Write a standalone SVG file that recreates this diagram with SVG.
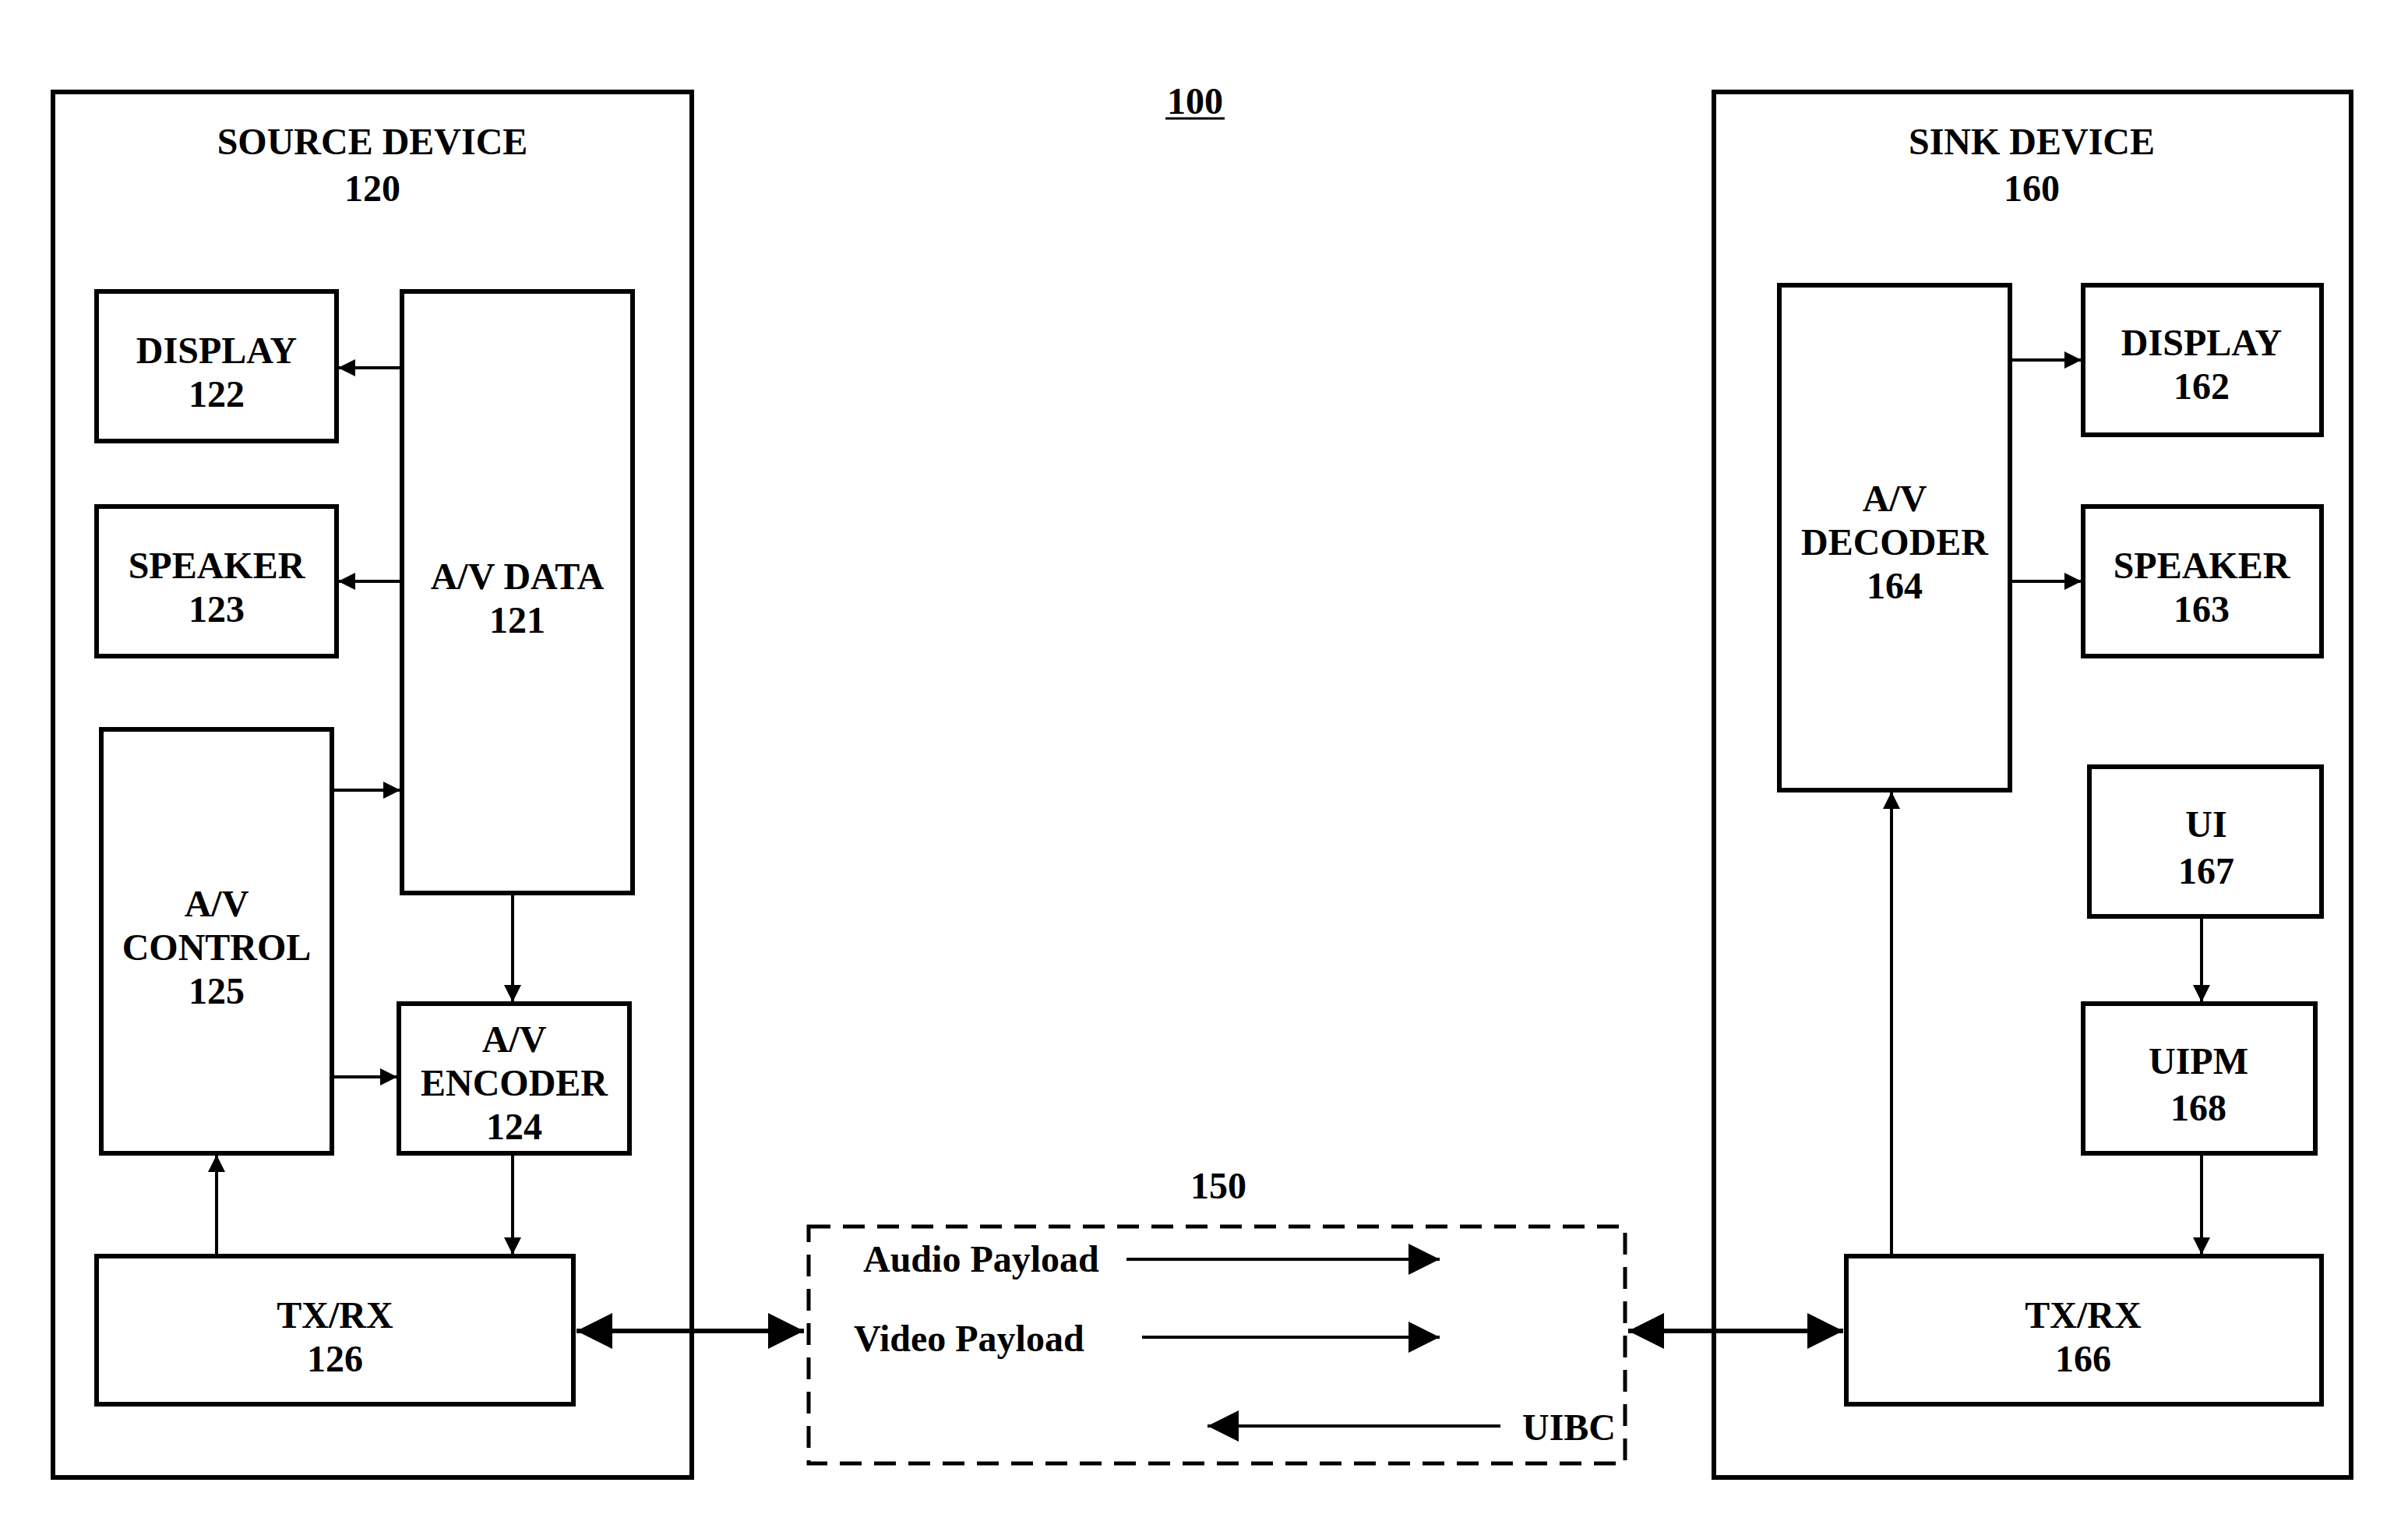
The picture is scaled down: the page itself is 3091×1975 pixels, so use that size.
<svg xmlns="http://www.w3.org/2000/svg" width="3091" height="1975" viewBox="0 0 3091 1975">
<style>
.b{fill:none;stroke:#000;stroke-width:6}
.t{font-family:"Liberation Serif",serif;font-weight:bold;font-size:48px;text-anchor:middle}
.l{stroke:#000;stroke-width:4;fill:none;marker-end:url(#a)}
.L{stroke:#000;stroke-width:6;fill:none;marker-end:url(#A);marker-start:url(#S)}
</style>
<defs>
<marker id="a" viewBox="0 0 10 10" refX="10" refY="5" markerWidth="26" markerHeight="22" orient="auto" markerUnits="userSpaceOnUse"><path d="M0,0L10,5L0,10z"/></marker>
<marker id="A" viewBox="0 0 10 10" refX="10" refY="5" markerWidth="48" markerHeight="46" orient="auto" markerUnits="userSpaceOnUse"><path d="M0,0L10,5L0,10z"/></marker>
<marker id="S" viewBox="0 0 10 10" refX="0" refY="5" markerWidth="48" markerHeight="46" orient="auto" markerUnits="userSpaceOnUse"><path d="M10,0L0,5L10,10z"/></marker>
<marker id="m" viewBox="0 0 10 10" refX="10" refY="5" markerWidth="40" markerHeight="40" orient="auto" markerUnits="userSpaceOnUse"><path d="M0,0L10,5L0,10z"/></marker>
</defs>
<text class="t" x="1534" y="146">100</text>
<line x1="1496" y1="152" x2="1572" y2="152" stroke="#000" stroke-width="3"/>
<g id="source"><rect class="b" x="68" y="118" width="820" height="1778"/><text class="t" x="478" y="198">SOURCE DEVICE</text><text class="t" x="478" y="258">120</text></g>
<g id="display122"><rect class="b" x="124" y="374" width="308" height="192"/><text class="t" x="278" y="466">DISPLAY</text><text class="t" x="278" y="522">122</text></g>
<g id="speaker123"><rect class="b" x="124" y="650" width="308" height="192"/><text class="t" x="278" y="742">SPEAKER</text><text class="t" x="278" y="798">123</text></g>
<g id="avdata121"><rect class="b" x="516" y="374" width="296" height="772"/><text class="t" x="664" y="756">A/V DATA</text><text class="t" x="664" y="812">121</text></g>
<g id="avcontrol125"><rect class="b" x="130" y="936" width="296" height="544"/><text class="t" x="278" y="1176">A/V</text><text class="t" x="278" y="1232">CONTROL</text><text class="t" x="278" y="1288">125</text></g>
<g id="encoder124"><rect class="b" x="512" y="1288" width="296" height="192"/><text class="t" x="660" y="1350">A/V</text><text class="t" x="660" y="1406">ENCODER</text><text class="t" x="660" y="1462">124</text></g>
<g id="txrx126"><rect class="b" x="124" y="1612" width="612" height="190"/><text class="t" x="430" y="1704">TX/RX</text><text class="t" x="430" y="1760">126</text></g>
<g id="channel150"><rect x="1038" y="1574" width="1048" height="304" fill="none" stroke="#000" stroke-width="5" stroke-dasharray="28,16"/><text class="t" x="1564" y="1538">150</text>
<text class="t" x="1108" y="1632" style="text-anchor:start">Audio Payload</text>
<text class="t" x="1096" y="1734" style="text-anchor:start">Video Payload</text>
<text class="t" x="2074" y="1848" style="text-anchor:end">UIBC</text></g>
<g id="sink"><rect class="b" x="2200" y="118" width="818" height="1778"/><text class="t" x="2608" y="198">SINK DEVICE</text><text class="t" x="2608" y="258">160</text></g>
<g id="decoder164"><rect class="b" x="2284" y="366" width="296" height="648"/><text class="t" x="2432" y="656">A/V</text><text class="t" x="2432" y="712">DECODER</text><text class="t" x="2432" y="768">164</text></g>
<g id="display162"><rect class="b" x="2674" y="366" width="306" height="192"/><text class="t" x="2826" y="456">DISPLAY</text><text class="t" x="2826" y="512">162</text></g>
<g id="speaker163"><rect class="b" x="2674" y="650" width="306" height="192"/><text class="t" x="2826" y="742">SPEAKER</text><text class="t" x="2826" y="798">163</text></g>
<g id="ui167"><rect class="b" x="2682" y="984" width="298" height="192"/><text class="t" x="2832" y="1074">UI</text><text class="t" x="2832" y="1134">167</text></g>
<g id="uipm168"><rect class="b" x="2674" y="1288" width="298" height="192"/><text class="t" x="2822" y="1378">UIPM</text><text class="t" x="2822" y="1438">168</text></g>
<g id="txrx166"><rect class="b" x="2370" y="1612" width="610" height="190"/><text class="t" x="2674" y="1704">TX/RX</text><text class="t" x="2674" y="1760">166</text></g>
<g id="connectors">
<path class="l" d="M516,472H434"/>
<path class="l" d="M516,746H434"/>
<path class="l" d="M426,1014H514"/>
<path class="l" d="M426,1382H510"/>
<path class="l" d="M658,1146V1286"/>
<path class="l" d="M658,1480V1610"/>
<path class="l" d="M278,1612V1482"/>
<path class="L" d="M740,1708H1032"/>
<path class="L" d="M2090,1708H2366"/>
<path d="M1446,1616H1848" stroke="#000" stroke-width="4" marker-end="url(#m)"/>
<path d="M1466,1716H1848" stroke="#000" stroke-width="4" marker-end="url(#m)"/>
<path d="M1926,1830H1550" stroke="#000" stroke-width="4" marker-end="url(#m)"/>
<path class="l" d="M2580,462H2672"/>
<path class="l" d="M2580,746H2672"/>
<path class="l" d="M2826,1176V1286"/>
<path class="l" d="M2826,1480V1610"/>
<path class="l" d="M2428,1612V1016"/>
</g>
</svg>
